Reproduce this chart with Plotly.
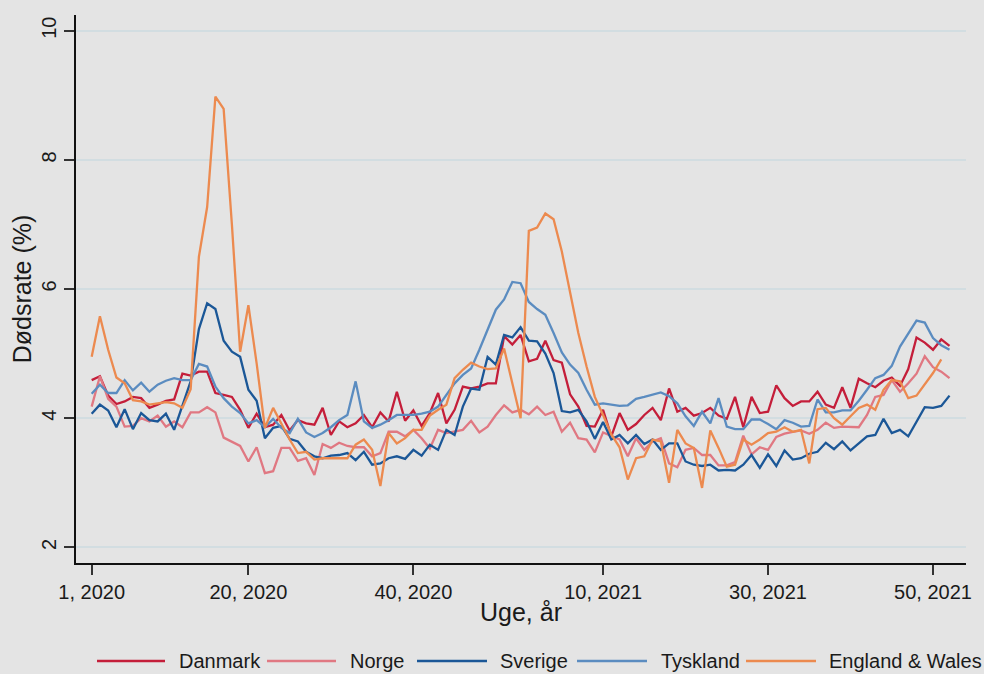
import plotly.graph_objects as go

# ---- data (weekly death rate, %) ----
tick_positions = [0, 19, 39, 62, 82, 102]
tick_labels = ["1, 2020", "20, 2020", "40, 2020", "10, 2021", "30, 2021", "50, 2021"]

danmark = [4.59, 4.65, 4.35, 4.22, 4.26, 4.33, 4.31, 4.16, 4.21, 4.27, 4.29, 4.69, 4.66, 4.72, 4.72,
           4.39, 4.36, 4.33, 4.13, 3.85, 4.07, 3.86, 3.90, 4.05, 3.81, 3.97, 3.92, 3.90, 4.16, 3.74,
           3.95, 3.86, 3.92, 4.05, 3.86, 4.09, 3.95, 4.41, 3.96, 4.12, 3.88, 4.08, 4.39, 3.92, 4.13,
           4.49, 4.46, 4.49, 4.54, 4.54, 5.27, 5.14, 5.29, 4.88, 4.92, 5.20, 4.90, 4.86, 4.37, 4.18,
           3.88, 3.87, 4.13, 3.72, 4.08, 3.82, 3.91, 4.05, 4.16, 3.97, 4.46, 4.10, 4.16, 4.04, 4.08,
           4.16, 4.04, 3.99, 4.33, 3.86, 4.33, 4.08, 4.10, 4.51, 4.31, 4.19, 4.26, 4.26, 4.41, 4.21,
           4.16, 4.48, 4.16, 4.61, 4.54, 4.48, 4.58, 4.63, 4.50, 4.76, 5.25, 5.17, 5.06, 5.22, 5.12]

norge = [4.18, 4.65, 4.30, 4.18, 3.87, 3.88, 4.00, 3.95, 4.04, 3.87, 3.95, 3.86, 4.09, 4.09, 4.17,
         4.09, 3.70, 3.63, 3.57, 3.33, 3.55, 3.15, 3.18, 3.54, 3.54, 3.34, 3.38, 3.12, 3.60, 3.54,
         3.62, 3.57, 3.55, 3.55, 3.41, 3.46, 3.79, 3.79, 3.72, 3.82, 3.69, 3.53, 3.82, 3.77, 3.79,
         3.82, 3.96, 3.78, 3.87, 4.05, 4.20, 4.09, 4.13, 4.06, 4.18, 4.05, 4.10, 3.79, 3.93, 3.69,
         3.67, 3.47, 3.78, 3.72, 3.67, 3.41, 3.69, 3.51, 3.64, 3.69, 3.30, 3.24, 3.51, 3.54, 3.43,
         3.43, 3.27, 3.27, 3.32, 3.73, 3.44, 3.55, 3.51, 3.71, 3.76, 3.79, 3.81, 3.76, 3.82, 3.93,
         3.85, 3.87, 3.87, 3.86, 4.05, 4.33, 4.36, 4.59, 4.41, 4.54, 4.69, 4.96, 4.79, 4.72, 4.62]

sverige = [4.07, 4.21, 4.12, 3.86, 4.14, 3.83, 4.08, 3.97, 3.95, 4.07, 3.82, 4.18, 4.57, 5.38, 5.78,
           5.69, 5.20, 5.03, 4.95, 4.44, 4.27, 3.69, 3.85, 3.88, 3.68, 3.64, 3.48, 3.41, 3.38, 3.42,
           3.43, 3.46, 3.35, 3.48, 3.28, 3.30, 3.38, 3.41, 3.37, 3.51, 3.42, 3.59, 3.51, 3.82, 3.74,
           4.18, 4.46, 4.44, 4.95, 4.83, 5.29, 5.25, 5.41, 5.20, 5.19, 5.00, 4.70, 4.11, 4.09, 4.13,
           3.95, 3.68, 3.94, 3.67, 3.74, 3.61, 3.74, 3.60, 3.67, 3.51, 3.61, 3.61, 3.33, 3.28, 3.26,
           3.28, 3.19, 3.20, 3.19, 3.28, 3.43, 3.23, 3.44, 3.26, 3.50, 3.36, 3.38, 3.45, 3.48, 3.62,
           3.52, 3.64, 3.50, 3.61, 3.72, 3.74, 3.99, 3.77, 3.82, 3.72, 3.95, 4.17, 4.16, 4.19, 4.35]

tyskland = [4.38, 4.52, 4.39, 4.39, 4.59, 4.43, 4.55, 4.41, 4.52, 4.58, 4.62, 4.59, 4.59, 4.84, 4.80,
            4.49, 4.31, 4.18, 4.08, 3.92, 3.97, 3.86, 3.99, 3.85, 3.77, 3.99, 3.78, 3.71, 3.77, 3.86,
            3.97, 4.05, 4.57, 3.95, 3.85, 3.90, 3.97, 4.05, 4.05, 4.05, 4.07, 4.10, 4.18, 4.36, 4.54,
            4.67, 4.77, 5.06, 5.37, 5.68, 5.84, 6.11, 6.09, 5.80, 5.69, 5.60, 5.32, 5.02, 4.83, 4.70,
            4.44, 4.21, 4.23, 4.21, 4.19, 4.20, 4.30, 4.33, 4.36, 4.40, 4.34, 4.23, 4.03, 3.88, 4.10,
            3.92, 4.31, 3.87, 3.83, 3.83, 3.98, 3.98, 3.91, 3.83, 3.97, 3.93, 3.87, 3.88, 4.29, 4.09,
            4.09, 4.12, 4.12, 4.27, 4.44, 4.62, 4.67, 4.81, 5.11, 5.32, 5.51, 5.48, 5.24, 5.13, 5.06]

england_wales = [4.95, 5.58, 5.06, 4.63, 4.54, 4.28, 4.26, 4.21, 4.23, 4.25, 4.23, 4.16, 4.45, 6.50, 7.27,
                 8.98, 8.79, 7.00, 5.03, 5.75, 4.85, 3.85, 4.16, 3.92, 3.67, 3.46, 3.48, 3.36, 3.38, 3.38,
                 3.38, 3.38, 3.59, 3.67, 3.51, 2.95, 3.77, 3.61, 3.69, 3.82, 3.82, 4.04, 4.13, 4.21, 4.62,
                 4.75, 4.86, 4.80, 4.76, 4.77, 5.08, 4.54, 4.00, 6.90, 6.95, 7.17, 7.08, 6.58, 5.94, 5.32,
                 4.80, 4.33, 4.05, 3.75, 3.55, 3.05, 3.38, 3.41, 3.67, 3.64, 3.00, 3.82, 3.61, 3.54, 2.92,
                 3.81, 3.54, 3.25, 3.28, 3.67, 3.59, 3.67, 3.77, 3.79, 3.86, 3.79, 3.82, 3.30, 4.14, 4.16,
                 4.00, 3.90, 4.03, 4.16, 4.21, 4.13, 4.44, 4.59, 4.57, 4.31, 4.35, 4.52, 4.70, 4.91]

series_names = ["Danmark", "Norge", "Sverige", "Tyskland", "England & Wales"]
series_values = [danmark, norge, sverige, tyskland, england_wales]
series_colors = ["#c41e3a", "#e07882", "#1b5797", "#5b8cc0", "#ec8a4f"]

BG = "#e4e4e4"
FONT = "Liberation Sans, Arial, sans-serif"
TXT = "#1a1a1a"

fig = go.Figure()
for name, vals, col in zip(series_names, series_values, series_colors):
    fig.add_trace(go.Scatter(
        x=list(range(len(vals))), y=vals, mode="lines", name=name,
        line=dict(color=col, width=2.3), showlegend=False,
    ))

# plot-area geometry in pixels
W, H = 984, 674
L, R, T, B = 76, 18, 15, 111
pw, ph = W - L - R, H - T - B

def px_x(p):
    return (p - L) / pw

def px_y(p):
    return (H - B - p) / ph

# custom legend (line sample + label), laid out like the reference
legend_layout = [(97, 165, 177), (267, 336, 348), (417, 487, 498), (577, 647, 659), (746, 816, 827)]
shapes = []
annotations = []
ly = 661
for (x0, x1, tx), name, col in zip(legend_layout, series_names, series_colors):
    shapes.append(dict(type="line", xref="paper", yref="paper",
                       x0=px_x(x0), x1=px_x(x1), y0=px_y(ly), y1=px_y(ly),
                       line=dict(color=col, width=2.3)))
    annotations.append(dict(xref="paper", yref="paper", x=px_x(tx), y=px_y(ly),
                            text=name, showarrow=False, xanchor="left", yanchor="middle",
                            font=dict(family=FONT, size=20, color=TXT)))

fig.update_layout(
    width=W, height=H,
    margin=dict(l=L, r=R, t=T, b=B, pad=0),
    paper_bgcolor=BG, plot_bgcolor=BG,
    font=dict(family=FONT, size=20, color=TXT),
    shapes=shapes, annotations=annotations,
    showlegend=False,
)
fig.update_xaxes(
    range=[-1.9, 106.0], tickvals=tick_positions, ticktext=tick_labels,
    showgrid=False, zeroline=False, showline=True, linecolor="#111111", linewidth=1.5,
    ticks="outside", ticklen=10, tickwidth=1.5, tickcolor="#333333",
    tickfont=dict(family=FONT, size=20, color=TXT),
    title=dict(text="Uge, år", font=dict(family=FONT, size=25, color=TXT), standoff=2),
)
fig.update_yaxes(
    range=[1.758, 10.243], tickvals=[2, 4, 6, 8, 10], ticktext=["2", "4", "6", "8", "10"],
    showgrid=True, gridcolor="#d2dde1", gridwidth=1.5, zeroline=False,
    showline=True, linecolor="#111111", linewidth=1.5,
    ticks="outside", ticklen=10, tickwidth=1.5, tickcolor="#333333",
    tickangle=-90, tickfont=dict(family=FONT, size=20, color=TXT),
    title=dict(text="Dødsrate (%)", font=dict(family=FONT, size=25, color=TXT), standoff=0),
)

fig.write_html(
    "out.html",
    config={"displayModeBar": False},
    post_script="document.body.style.margin='0';document.body.style.background='" + BG + "';",
)
